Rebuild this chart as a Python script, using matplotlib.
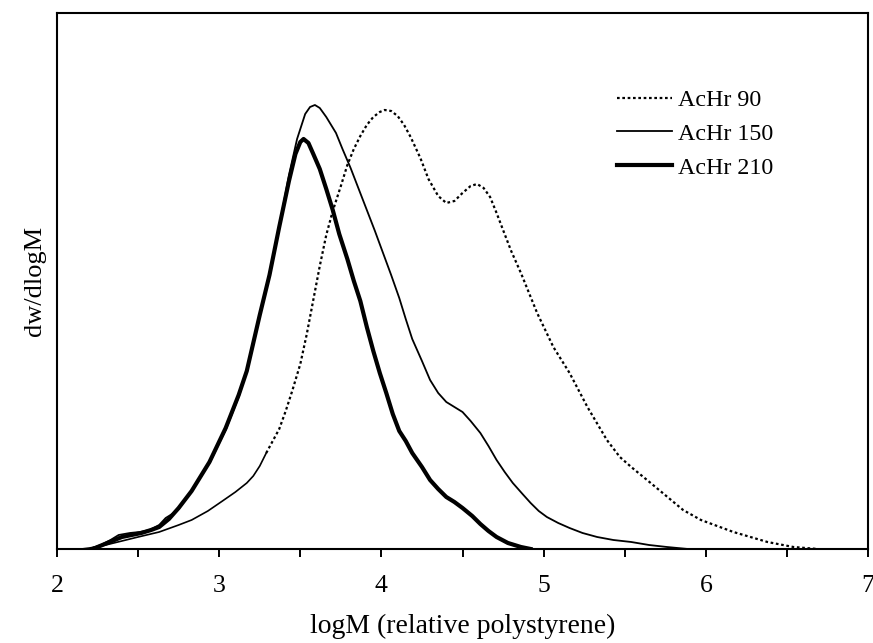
import matplotlib.pyplot as plt
from matplotlib.ticker import MultipleLocator
import numpy as np

plt.rcParams['font.family'] = ['Liberation Serif', 'DejaVu Serif']

# AcHr 90 (dotted)
x90 = np.array([2.15, 2.20, 2.30, 2.40, 2.50, 2.63, 2.75, 2.83, 2.93, 3.02, 3.10, 3.17, 3.21,
                3.25, 3.29, 3.33, 3.37, 3.41, 3.45, 3.50, 3.54, 3.58, 3.62, 3.66, 3.70, 3.75,
                3.79, 3.83, 3.87, 3.91, 3.95, 3.99, 4.02, 4.06, 4.10, 4.14, 4.18, 4.24, 4.29,
                4.35, 4.40, 4.45, 4.50, 4.55, 4.59, 4.63, 4.67, 4.71, 4.75, 4.80, 4.86, 4.96,
                5.06, 5.16, 5.27, 5.39, 5.47, 5.54, 5.66, 5.86, 5.97, 6.17, 6.38, 6.54, 6.69])
y90 = np.array([0, 1, 4, 8, 12, 17, 24, 29, 38, 48, 57, 66, 73,
                83, 96, 108, 120, 138, 158, 185, 215, 249, 283, 314, 338, 363,
                384, 400, 413, 424, 432, 437, 439, 438, 433, 424, 412, 391, 370,
                353, 346, 348, 356, 363, 365, 361, 352, 336, 319, 298, 276, 236,
                202, 176, 142, 109, 92, 82, 66, 39, 29, 17, 7, 2, 0])

# AcHr 150 (thin)
x150 = np.array([2.20, 2.27, 2.33, 2.38, 2.45, 2.51, 2.57, 2.63, 2.67, 2.71, 2.75, 2.83, 2.94,
                 3.04, 3.12, 3.17, 3.21, 3.25, 3.31, 3.37, 3.43, 3.48, 3.53, 3.56, 3.59, 3.62,
                 3.66, 3.72, 3.76, 3.81, 3.86, 3.91, 3.96, 4.01, 4.06, 4.11, 4.15, 4.19, 4.25,
                 4.30, 4.35, 4.40, 4.45, 4.50, 4.55, 4.61, 4.66, 4.71, 4.76, 4.81, 4.87, 4.92,
                 4.97, 5.02, 5.09, 5.16, 5.24, 5.33, 5.43, 5.54, 5.65, 5.76, 5.89])
y150 = np.array([0, 4, 9, 14, 16, 17, 19, 24, 31, 35, 40, 58, 86,
                 119, 152, 178, 204, 234, 273, 322, 374, 410, 435, 442, 444, 441,
                 432, 416, 400, 381, 360, 339, 318, 296, 274, 251, 230, 210, 188,
                 169, 156, 147, 142, 137, 128, 116, 103, 89, 77, 66, 55, 46,
                 38, 32, 26, 21, 16, 12, 9, 7, 4, 2, 0])

# AcHr 210 (thick)
x210 = np.array([2.22, 2.28, 2.34, 2.40, 2.46, 2.52, 2.58, 2.63, 2.69, 2.75, 2.83, 2.94, 3.04,
                 3.12, 3.17, 3.25, 3.31, 3.37, 3.43, 3.47, 3.50, 3.52, 3.55, 3.58, 3.62, 3.66,
                 3.70, 3.74, 3.79, 3.83, 3.87, 3.91, 3.95, 3.99, 4.03, 4.07, 4.11, 4.15, 4.19,
                 4.25, 4.30, 4.35, 4.40, 4.45, 4.50, 4.56, 4.61, 4.66, 4.71, 4.78, 4.86, 4.92])
y210 = np.array([0, 4, 8, 12, 14, 16, 19, 22, 30, 41, 58, 87, 121,
                 154, 178, 234, 274, 322, 368, 395, 407, 410, 406, 395, 380, 360,
                 339, 315, 290, 268, 248, 222, 198, 176, 156, 135, 118, 108, 96,
                 82, 69, 60, 52, 47, 41, 33, 25, 18, 12, 6, 2, 0])

fig = plt.figure(figsize=(8.73, 6.43), dpi=100)
ax = fig.add_axes([0.0653, 0.1462, 0.9290, 0.8336])

# the low tail of AcHr 90 prints as a solid thin line in the original
low = x90 <= 3.29
high = x90 >= 3.29
ax.plot(x90[low], y90[low], color='black', lw=1.2)
ax.plot(x90[high], y90[high], color='black', lw=1.6, linestyle=(0, (1.2, 1.2)),
        label='AcHr 90')
ax.plot(x150, y150, color='black', lw=1.3, label='AcHr 150')
ax.plot(x210, y210, color='black', lw=3.0, label='AcHr 210')

ax.set_xlim(2, 7)
ax.set_ylim(0, 536)
ax.xaxis.set_major_locator(MultipleLocator(1))
ax.xaxis.set_minor_locator(MultipleLocator(0.5))
ax.tick_params(axis='x', which='both', direction='out', length=6, width=1.4,
               labelsize=18.5, pad=13)
ax.set_yticks([])
for s in ax.spines.values():
    s.set_linewidth(1.5)

ax.set_xlabel('logM (relative polystyrene)', fontsize=20, labelpad=12)
ax.set_ylabel('dw/dlogM', fontsize=19, labelpad=8)

ax.legend(loc='upper left', bbox_to_anchor=(0.69, 0.858), frameon=False, fontsize=17.3,
          handlelength=2.3, handletextpad=0.25, labelspacing=0.5, borderpad=0,
          borderaxespad=0)

fig.savefig('out.png', dpi=100)
